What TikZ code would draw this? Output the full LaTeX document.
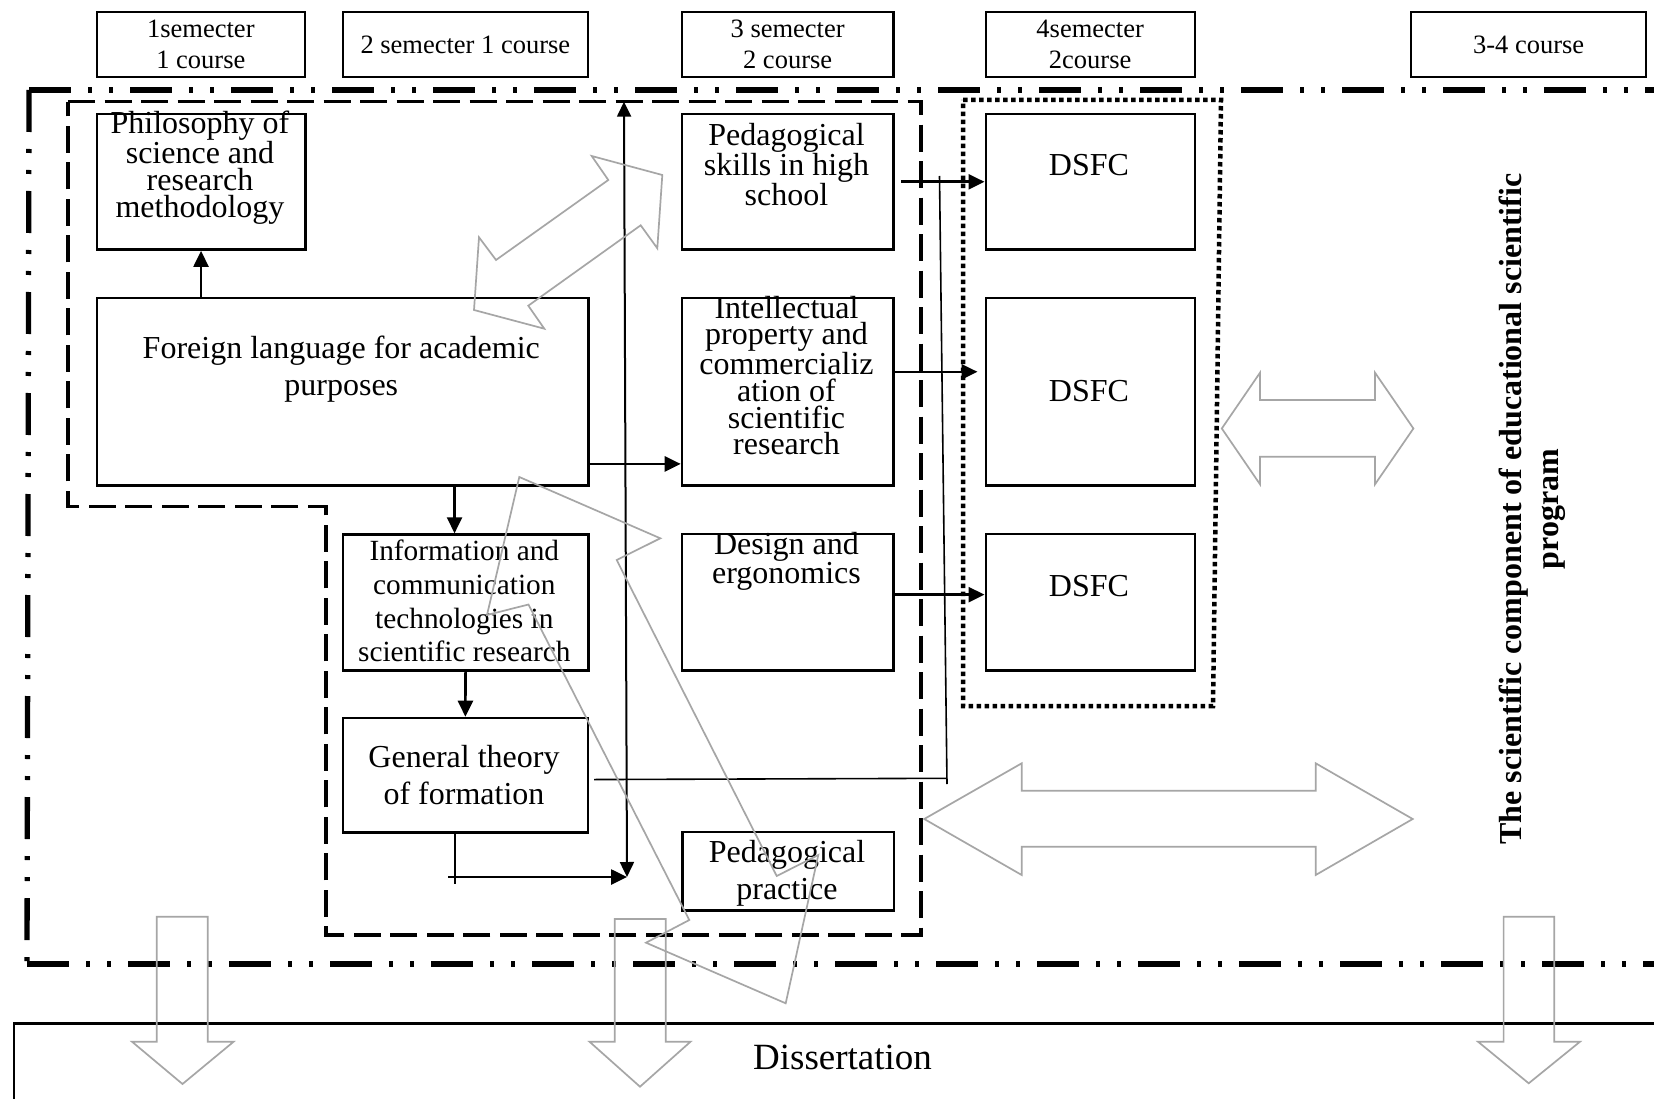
\documentclass[tikz,border=0pt]{standalone}
\usepackage{fontspec}
\setmainfont{Liberation Serif}
\usetikzlibrary{positioning,arrows.meta}

\begin{document}
\begin{tikzpicture}[x=1pt, y=-1pt,
  box/.style={draw, line width=2.6pt, inner sep=0pt, anchor=north west},
  head/.style={draw, line width=2.2pt, inner sep=0pt, anchor=north west, minimum height=65.3pt,
    align=center, font=\fontsize{26.5}{30.6}\selectfont},
  txt/.style={align=center, inner sep=0pt, font=\fontsize{32}{37}\selectfont},
  arr/.style={-{Triangle[length=16pt,width=15pt]}, line width=2.6pt},
  thinl/.style={line width=1.6pt},
  hollow/.style={draw=gray!70, line width=1.7pt, line join=miter},
  frameA/.style={line width=5.3pt, dash pattern=on 42pt off 17pt on 4pt off 17pt on 4pt off 17pt},
  frameB/.style={line width=3.4pt, dash pattern=on 27pt off 9.5pt},
  frameC/.style={line width=4.5pt, dash pattern=on 4.5pt off 3.5pt}]

  \fill[white] (0,0) rectangle (1654,1099);
  \useasboundingbox (0,0) rectangle (1654,1099);

  % semesters
  \node[head, minimum width=208.5pt] (h1) at (95.5,10.7) {1semecter\\ 1 course};
  \node[head, minimum width=245.5pt] (h2) at (341.5,10.7) {2 semecter 1 course};
  \node[head, minimum width=211.7pt] (h3) at (680.7,10.7) {3 semecter\\2 course};
  \node[head, minimum width=209.1pt] (h4) at (984.5,10.7) {4semecter\\2course};
  \node[head, minimum width=235pt] (h5) at (1410,10.7) {3-4 course};

  % frames
  \draw[frameA] (29,90) -- (1660,90);
  \draw[frameA] (29,90) -- (27,964);
  \draw[frameA] (27,964) -- (1660,964);
  \draw[frameB] (68,101.7) -- (921,101.7) -- (921,935) -- (326,935) -- (326,506.7) -- (68,506.7) -- cycle;
  \draw[frameC] (963,100) -- (1221,100) -- (1213,706) -- (963,706) -- cycle;

  % disciplines
  \node[box, minimum width=208.5pt, minimum height=135.6pt] (phil) at (95.5,112.7) {};
  \node[box, minimum width=491.5pt, minimum height=187.6pt] (fl) at (95.5,296.7) {};
  \node[box, minimum width=245.5pt, minimum height=135.7pt] (ict) at (341.5,533.3) {};
  \node[box, minimum width=245.1pt, minimum height=114.3pt] (gen) at (341.5,716.7) {};
  \node[box, minimum width=211.7pt, minimum height=135.6pt] (ps) at (680.7,112.7) {};
  \node[box, minimum width=211.7pt, minimum height=187.6pt] (ip) at (680.7,296.7) {};
  \node[box, minimum width=211.7pt, minimum height=136.3pt] (de) at (680.7,532.7) {};
  \node[box, minimum width=211.2pt, minimum height=78.3pt] (pp) at (681.4,830.7) {};
  \node[box, minimum width=209.1pt, minimum height=135.6pt] (d1) at (984.5,112.7) {};
  \node[box, minimum width=209.1pt, minimum height=187.6pt] (d2) at (984.5,296.7) {};
  \node[box, minimum width=209.1pt, minimum height=136.3pt] (d3) at (984.5,532.7) {};

  \node[txt, font=\fontsize{32}{26.7}\selectfont] (phil-t) at (200,167.5) {Philosophy of\\science and\\research\\methodology};
  \node[txt] (fl-t) at (341.3,369.5) {Foreign language for academic\\purposes};
  \node[txt, font=\fontsize{29.3}{33.8}\selectfont] (ict-t) at (464.3,601) {Information and\\communication\\technologies in\\scientific research};
  \node[txt] (gen-t) at (464,774.7) {General theory\\of formation};
  \node[txt, font=\fontsize{32}{29}\selectfont] (ps-t) at (786.5,164.5) {Pedagogical\\skills in high\\school};
  \node[txt, font=\fontsize{32}{26.6}\selectfont] (ip-t) at (786.5,375.5) {Intellectual\\property and\\commercializ\\ation of\\scientific\\research};
  \node[txt, font=\fontsize{32}{26.4}\selectfont] (de-t) at (786.5,561.5) {Design and\\ergonomics};
  \node[txt] (pp-t) at (787,873.7) {Pedagogical\\practice};
  \node[txt] (d1-t) at (1089,165.5) {DSFC};
  \node[txt] (d2-t) at (1089,391) {DSFC};
  \node[txt] (d3-t) at (1089,586) {DSFC};

  \node[txt, rotate=90, font=\bfseries\fontsize{32}{37}\selectfont] (prog) at (1532,509)
    {The scientific component of educational scientific\\program};

  \node[box, line width=2.4pt, minimum width=1700pt, minimum height=120pt] (dis) at (12.6,1022.3) {};
  \node[txt, font=\fontsize{37}{40}\selectfont] (dis-t) at (842.5,1057) {Dissertation};

  % links
  \coordinate (vt) at (624,101.7);
  \coordinate (vb) at (627,877);
  \coordinate (jt) at (939.5,176);
  \coordinate (jb) at (947,784);
  \coordinate (jm) at (947,778.3);
  \draw[arr] (fl.north -| phil.south) -- (phil.south);
  \draw[arr] ([xshift=-11pt]ict.north |- fl.south) -- ([xshift=-11pt]ict.north);
  \draw[arr] (ict.south) -- (gen.north);
  \draw[arr] ([yshift=23pt]fl.south east) -- ([yshift=23pt]ip.south west);
  \draw[{Triangle[length=15pt,width=14pt]}-{Triangle[length=15pt,width=14pt]}, line width=2pt] (vt) -- (vb);
  \draw[line width=2.2pt] ([xshift=-10.5pt]gen.south) -- ++(0,50);
  \draw[arr] ([xshift=-17pt]gen.south |- vb) -- (vb);
  \draw[arr] ([xshift=6pt]ps.east) -- (d1.west);
  \draw[arr] ([yshift=20pt]ip.east) -- ([xshift=-7pt,yshift=20pt]d2.west);
  \draw[arr] ([yshift=7.5pt]de.east) -- ([yshift=7.5pt]d3.west);
  \draw[thinl] ([xshift=5pt,yshift=-4.4pt]gen.east) -- (jm);
  \draw[thinl] (jb) -- (jt);

  % hollow arrows
  \draw[hollow] (591.7,156) -- (662.3,175) -- (657.3,248.3) -- (640.7,225.3) -- (528.3,305.7)
    -- (544.3,328.7) -- (474,310) -- (479,237.3) -- (496,260) -- (608.3,180) -- cycle;
  \draw[hollow] (519.3,477) -- (660.3,538.3) -- (616.7,560) -- (776.7,876) -- (818.3,855)
    -- (785.7,1003.3) -- (646,942.7) -- (689.3,920) -- (528.5,604.5) -- (487,615) -- cycle;
  \draw[hollow] (1221.8,428.5) -- (1260,372.7) -- (1260,400) -- (1375,400) -- (1375,372.7) -- (1413.4,428.5)
    -- (1375,484.3) -- (1375,456.7) -- (1260,456.7) -- (1260,484.3) -- cycle;
  \draw[hollow] (924.2,819) -- (1021.7,763.3) -- (1021.7,790.7) -- (1315.7,790.7) -- (1315.7,763.3) -- (1412.7,819)
    -- (1315.7,875) -- (1315.7,846.7) -- (1021.7,846.7) -- (1021.7,875) -- cycle;
  \draw[hollow] (156.7,916.7) -- (207.8,916.7) -- (207.8,1041.7) -- (233.6,1041.7) -- (182.5,1084)
    -- (132,1041.7) -- (156.7,1041.7) -- cycle;
  \draw[hollow] (614.8,919) -- (665.8,919) -- (665.8,1041.7) -- (690.5,1041.7) -- (640,1086.7)
    -- (589.5,1041.7) -- (614.8,1041.7) -- cycle;
  \draw[hollow] (1503.6,916.7) -- (1554.3,916.7) -- (1554.3,1041.7) -- (1580,1041.7) -- (1528.7,1083.3)
    -- (1478,1041.7) -- (1503.6,1041.7) -- cycle;
\end{tikzpicture}
\end{document}
